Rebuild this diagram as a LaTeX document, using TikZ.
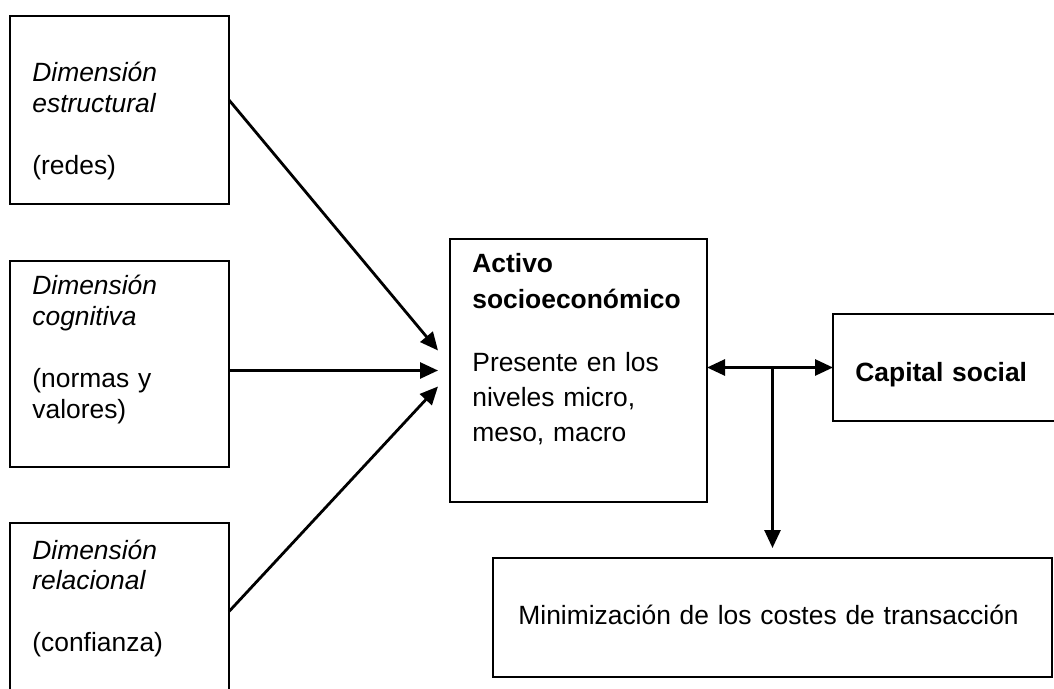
\documentclass[tikz,border=0pt]{standalone}
\usepackage{fontspec}
\setmainfont{Liberation Sans}
\usetikzlibrary{arrows.meta}

\tikzset{
  caja/.style={draw, line width=1pt, inner sep=0pt, outer sep=0pt, anchor=north west},
  texto/.style={inner sep=0pt, anchor=base west, align=left, text width=#1,
    font=\fontsize{13.2}{15.4}\selectfont},
  texto/.default=100pt,
  punta/.tip={Triangle[length=9pt,width=8pt]},
  flecha/.style={line width=1.4pt, -punta},
}

\begin{document}
\begin{tikzpicture}[x=0.5pt,y=-0.5pt]

\clip (0,0) rectangle (1054,689);

%cajas de la izquierda
\node[caja, minimum width=109.5pt, minimum height=94pt] (b1) at (10,16) {};
\node[caja, minimum width=109.5pt, minimum height=103pt] (b2) at (10,261) {};
\node[caja, minimum width=109.5pt, minimum height=88.5pt] (b3) at (10,523) {}; %cortada abajo

\node[texto] (t1) at (32,82) {\textit{Dimensión}\\\textit{estructural}\\[\baselineskip](redes)};
\node[texto] (t2) at (32,295) {\textit{Dimensión}\\\textit{cognitiva}\\[\baselineskip](normas y\\valores)};
\node[texto] (t3) at (32,559) {\textit{Dimensión}\\\textit{relacional}\\[\baselineskip](confianza)};

%caja central
\node[caja, minimum width=128.5pt, minimum height=131.5pt] (act) at (450,239) {};
\node[texto=125pt, font=\fontsize{13.2}{17.6}\selectfont] (tact) at (472,273)
  {\textbf{Activo}\\\textbf{socioeconómico}\\[13.9pt]Presente en los\\niveles micro,\\meso, macro};

%cajas de la derecha
\node[caja, minimum width=113.5pt, minimum height=53.5pt] (cap) at (833,314) {};
\node[texto=100pt] (tcap) at (855,382) {\textbf{Capital social}};

\node[caja, minimum width=279.5pt, minimum height=59.5pt] (mini) at (493,558) {};
\node[texto=270pt] (tmini) at (518,624) {Minimización de los costes de transacción};

%flechas
\draw[flecha] ([yshift=5pt]b1.east) -- ([xshift=-6pt,yshift=10pt]act.west);
\draw[flecha] (b2.east |- act.west) -- ([xshift=-6pt]act.west);
\draw[flecha] (b3.east) -- ([xshift=-6pt,yshift=-8pt]act.west);

\draw[flecha, punta-punta] (act.east |- cap.west) -- (cap.west);
\draw[flecha] (mini.north |- cap.west) -- ([yshift=5pt]mini.north);

\end{tikzpicture}
\end{document}
